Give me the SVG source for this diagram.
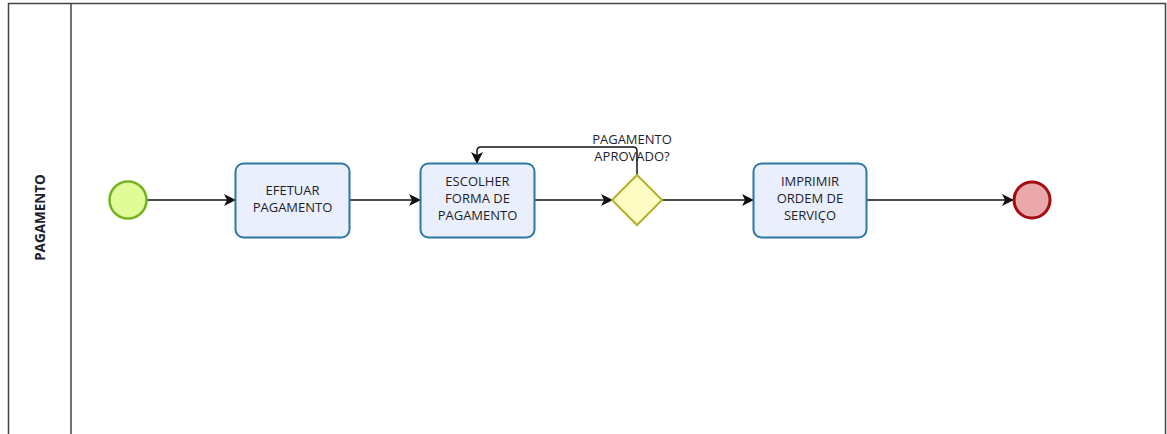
<svg xmlns="http://www.w3.org/2000/svg" width="1167" height="434" viewBox="0 0 1167 434">
  <style>
    .lane { fill: #ffffff; stroke: #444444; stroke-width: 1.5; }
    .task rect { fill: #e9effc; stroke: #2a78a3; stroke-width: 2; }
    .lbl { font-family: "Open Sans", "Liberation Sans", sans-serif; font-size: 13px; fill: #1e1e2a; text-anchor: middle; }
    .flow { fill: none; stroke: #111111; stroke-width: 1.5; }
  </style>
  <defs>
    <marker id="arrow" viewBox="0 0 12 12" refX="11" refY="6" markerWidth="12" markerHeight="12" markerUnits="userSpaceOnUse" orient="auto">
      <path d="M0,0 L12,6 L0,12 L3,6 Z" fill="#111111"/>
    </marker>
  </defs>

  <!-- pool / lane -->
  <g id="lane-pagamento">
    <path class="lane" d="M8.5,440 V3.5 H1165.5 V440"/>
    <line x1="71" y1="3.5" x2="71" y2="440" stroke="#444444" stroke-width="1.5"/>
    <text class="lbl" style="font-weight:bold;font-size:13.5px" transform="translate(45,217.5) rotate(-90)">PAGAMENTO</text>
  </g>

  <!-- connectors -->
  <g id="connectors">
    <line class="flow" x1="147" y1="200" x2="235" y2="200" marker-end="url(#arrow)"/>
    <line class="flow" x1="350" y1="200" x2="420" y2="200" marker-end="url(#arrow)"/>
    <line class="flow" x1="535" y1="200" x2="612" y2="200" marker-end="url(#arrow)"/>
    <line class="flow" x1="662" y1="200" x2="753" y2="200" marker-end="url(#arrow)"/>
    <line class="flow" x1="867" y1="200" x2="1013" y2="200" marker-end="url(#arrow)"/>
    <path class="flow" d="M637,175 V151 Q637,147 633,147 H481 Q477,147 477,151 V163" marker-end="url(#arrow)"/>
    <text class="lbl" x="632" y="143.5">PAGAMENTO</text>
    <text class="lbl" x="632" y="160.5">APROVADO?</text>
  </g>

  <g id="start">
    <circle cx="128" cy="200" r="18.5" fill="#e0fb98" stroke="#74b21f" stroke-width="2.5"/>
  </g>

  <g id="task-efetuar" class="task">
    <rect x="235.5" y="163.5" width="114" height="74" rx="8"/>
    <text class="lbl" x="292.5" y="194.5">EFETUAR</text>
    <text class="lbl" x="292.5" y="211.5">PAGAMENTO</text>
  </g>

  <g id="task-escolher" class="task">
    <rect x="420.5" y="163.5" width="114" height="74" rx="8"/>
    <text class="lbl" x="477.5" y="186">ESCOLHER</text>
    <text class="lbl" x="477.5" y="202.5">FORMA DE</text>
    <text class="lbl" x="477.5" y="219.5">PAGAMENTO</text>
  </g>

  <g id="gateway">
    <polygon points="637,175 662,200 637,225 612,200" fill="#fefdc3" stroke="#b3b12f" stroke-width="2"/>
  </g>

  <g id="task-imprimir" class="task">
    <rect x="753.5" y="163.5" width="113" height="74" rx="8"/>
    <text class="lbl" x="810" y="186">IMPRIMIR</text>
    <text class="lbl" x="810" y="202.5">ORDEM DE</text>
    <text class="lbl" x="810" y="219.5">SERVIÇO</text>
  </g>

  <g id="end">
    <circle cx="1032" cy="200" r="18" fill="#eba8aa" stroke="#a30d0d" stroke-width="3"/>
  </g>
</svg>
